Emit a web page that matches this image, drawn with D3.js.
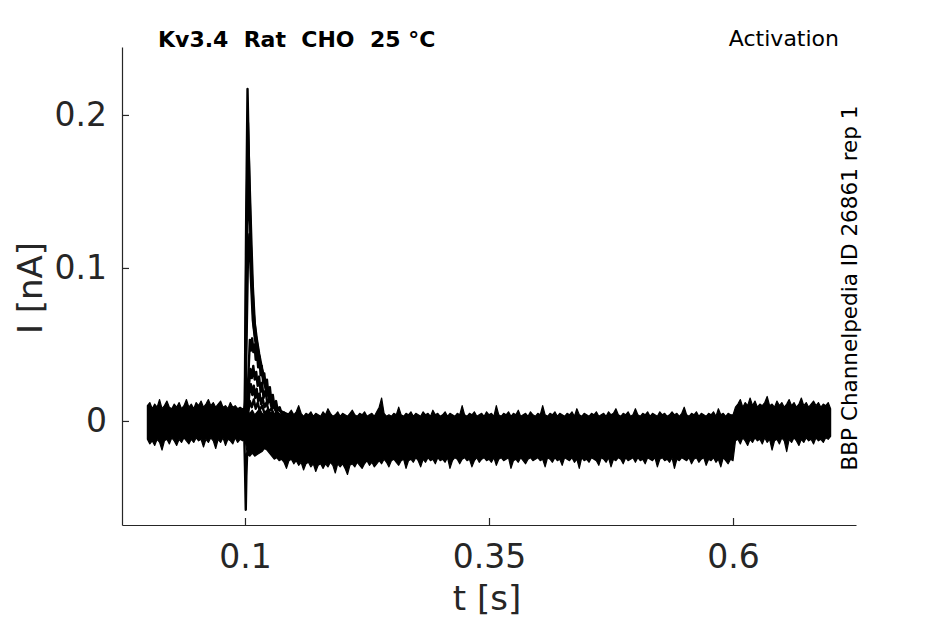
<!DOCTYPE html>
<html>
<head>
<meta charset="utf-8">
<script src="https://cdn.jsdelivr.net/npm/d3@7"></script>
<style>
  html, body { margin: 0; padding: 0; background: #fff; }
  #viz { width: 945px; height: 624px; }
  text { font-family: "DejaVu Sans", sans-serif; }
</style>
</head>
<body>
<div id="viz"></div>
<script>
// sample step of the noise envelope, seconds (0 .. 0.7)
const envStep = 0.0025;

// upper edge of the overlaid noisy traces [nA]
const bandTop = [
  // 0 .. 0.1
  0.010,0.012,0.008,0.011,0.009,0.014,0.008,0.010,0.013,0.009,
  0.008,0.011,0.009,0.012,0.008,0.010,0.014,0.009,0.011,0.008,
  0.012,0.010,0.013,0.009,0.011,0.014,0.010,0.012,0.009,0.011,
  0.013,0.009,0.010,0.008,0.012,0.009,0.010,0.008,0.009,0.008,
  0.008,
  // 0.1025 .. 0.6
  0.006,0.005,0.007,0.004,0.006,0.008,0.005,0.004,0.007,0.005,0.006,0.004,0.007,0.005,0.004,0.006,0.003,0.005,0.007,0.004,
  0.006,0.010,0.005,0.003,0.005,0.004,0.006,0.003,0.005,0.004,0.003,0.006,0.004,0.008,0.005,0.003,0.004,0.006,0.003,0.005,
  0.004,0.003,0.005,0.007,0.004,0.003,0.005,0.004,0.006,0.003,0.004,0.005,0.003,0.006,0.009,0.015,0.005,0.003,0.004,0.003,
  0.005,0.004,0.009,0.004,0.003,0.005,0.004,0.006,0.003,0.005,0.004,0.003,0.006,0.004,0.005,0.003,0.007,0.004,0.005,0.003,
  0.004,0.006,0.003,0.005,0.004,0.003,0.005,0.004,0.010,0.004,0.003,0.005,0.004,0.006,0.003,0.004,0.005,0.003,0.006,0.004,
  0.005,0.003,0.010,0.004,0.003,0.005,0.004,0.006,0.003,0.005,0.004,0.007,0.003,0.004,0.005,0.003,0.006,0.004,0.003,0.005,
  0.004,0.010,0.004,0.003,0.005,0.004,0.006,0.003,0.005,0.004,0.003,0.005,0.004,0.006,0.003,0.008,0.004,0.003,0.005,0.004,
  0.003,0.005,0.004,0.006,0.003,0.004,0.005,0.003,0.006,0.004,0.005,0.008,0.004,0.003,0.005,0.004,0.006,0.003,0.004,0.008,
  0.004,0.003,0.005,0.004,0.006,0.003,0.005,0.004,0.003,0.006,0.004,0.005,0.003,0.004,0.006,0.004,0.005,0.003,0.005,0.009,
  0.004,0.003,0.005,0.004,0.006,0.003,0.005,0.004,0.003,0.005,0.004,0.006,0.003,0.008,0.004,0.005,0.003,0.005,0.004,0.004,
  // 0.6025 .. 0.7
  0.009,0.011,0.014,0.009,0.012,0.010,0.015,0.010,0.013,0.009,
  0.011,0.010,0.012,0.016,0.010,0.011,0.009,0.013,0.010,0.012,
  0.009,0.011,0.014,0.010,0.012,0.009,0.011,0.015,0.010,0.012,
  0.009,0.011,0.013,0.010,0.012,0.009,0.011,0.010,0.012,0.008
];

// lower edge of the overlaid noisy traces [nA]
const bandBottom = [
  // 0 .. 0.1
  -0.012,-0.015,-0.013,-0.016,-0.012,-0.014,-0.019,-0.013,-0.012,-0.015,
  -0.011,-0.013,-0.016,-0.012,-0.014,-0.011,-0.013,-0.015,-0.012,-0.014,
  -0.011,-0.013,-0.012,-0.017,-0.012,-0.014,-0.011,-0.013,-0.018,-0.012,
  -0.014,-0.011,-0.016,-0.012,-0.013,-0.015,-0.011,-0.014,-0.012,-0.013,
  -0.012,
  // 0.1025 .. 0.6
  -0.022,-0.023,-0.021,-0.023,-0.022,-0.021,-0.020,-0.018,-0.019,-0.021,-0.023,-0.025,-0.024,-0.026,-0.025,-0.027,-0.031,-0.026,-0.025,-0.028,
  -0.026,-0.029,-0.027,-0.032,-0.028,-0.027,-0.030,-0.028,-0.033,-0.029,-0.028,-0.031,-0.028,-0.030,-0.027,-0.029,-0.034,-0.028,-0.030,-0.028,
  -0.031,-0.035,-0.029,-0.028,-0.030,-0.027,-0.029,-0.031,-0.028,-0.026,-0.029,-0.027,-0.030,-0.028,-0.026,-0.028,-0.025,-0.027,-0.030,-0.026,
  -0.025,-0.027,-0.029,-0.026,-0.025,-0.031,-0.026,-0.025,-0.027,-0.024,-0.026,-0.030,-0.025,-0.027,-0.024,-0.026,-0.025,-0.028,-0.024,-0.026,
  -0.025,-0.027,-0.024,-0.031,-0.026,-0.024,-0.025,-0.028,-0.025,-0.024,-0.026,-0.025,-0.030,-0.026,-0.024,-0.027,-0.025,-0.024,-0.026,-0.025,
  -0.027,-0.024,-0.029,-0.025,-0.024,-0.026,-0.025,-0.024,-0.031,-0.026,-0.025,-0.027,-0.024,-0.026,-0.028,-0.025,-0.024,-0.026,-0.025,-0.024,
  -0.026,-0.025,-0.030,-0.024,-0.025,-0.027,-0.024,-0.026,-0.025,-0.029,-0.024,-0.025,-0.026,-0.024,-0.027,-0.025,-0.031,-0.024,-0.026,-0.025,
  -0.027,-0.024,-0.025,-0.026,-0.029,-0.024,-0.025,-0.027,-0.024,-0.030,-0.025,-0.026,-0.024,-0.025,-0.028,-0.024,-0.026,-0.025,-0.024,-0.027,
  -0.024,-0.026,-0.025,-0.028,-0.024,-0.025,-0.026,-0.024,-0.030,-0.025,-0.024,-0.026,-0.025,-0.027,-0.024,-0.031,-0.025,-0.026,-0.024,-0.025,
  -0.026,-0.024,-0.028,-0.025,-0.024,-0.027,-0.025,-0.024,-0.029,-0.025,-0.026,-0.024,-0.027,-0.025,-0.030,-0.024,-0.026,-0.028,-0.025,-0.026,
  // 0.6025 .. 0.7
  -0.013,-0.012,-0.015,-0.011,-0.013,-0.016,-0.012,-0.014,-0.011,-0.013,
  -0.012,-0.015,-0.011,-0.014,-0.012,-0.019,-0.013,-0.012,-0.015,-0.011,
  -0.013,-0.020,-0.012,-0.014,-0.011,-0.013,-0.016,-0.012,-0.014,-0.011,
  -0.013,-0.012,-0.015,-0.011,-0.013,-0.012,-0.014,-0.011,-0.012,-0.010
];

// transient traces around the step at 0.1 s (time [s], current [nA])
const aT = [0.0990,0.0998,0.1012,0.1026,0.1040,0.1058,0.1075,0.1090,0.1110,0.1130,0.1155,0.1185,0.1225,0.1280,0.1350,0.1450];
const aI = [0.005,0.010,0.130,0.217,0.170,0.118,0.080,0.062,0.052,0.045,0.037,0.029,0.020,0.012,0.007,0.004];
const bT = [0.0992,0.1000,0.1015,0.1030,0.1045,0.1065,0.1080,0.1100,0.1120,0.1145,0.1175,0.1210,0.1260,0.1320,0.1400];
const bI = [0.004,0.012,0.120,0.195,0.160,0.118,0.088,0.064,0.054,0.044,0.034,0.025,0.016,0.009,0.004];
const cT = [0.0994,0.1003,0.1020,0.1036,0.1052,0.1070,0.1090,0.1110,0.1130,0.1160,0.1200,0.1250,0.1320];
const cI = [0.003,0.015,0.110,0.160,0.130,0.096,0.070,0.056,0.048,0.036,0.024,0.014,0.006];
const dT = [0.0996,0.1006,0.1030,0.1045,0.1060,0.1080,0.1100,0.1120,0.1150,0.1190,0.1240,0.1300,0.1400];
const dI = [0.002,0.015,0.105,0.122,0.094,0.066,0.055,0.047,0.039,0.029,0.019,0.011,0.004];
const eT = [0.1015,0.1035,0.1050,0.1062,0.1074,0.1086,0.1098,0.1110,0.1122,0.1135,0.1148,0.1160,0.1172,0.1185,0.1198,0.1212,0.1225,0.1240,0.1255,0.1270,0.1285,0.1300,0.1318,0.1335,0.1355,0.1380];
const eI = [0.004,0.030,0.053,0.046,0.054,0.045,0.050,0.040,0.046,0.035,0.042,0.030,0.036,0.026,0.031,0.021,0.027,0.017,0.022,0.013,0.017,0.010,0.013,0.007,0.009,0.004];
const fT = [0.1020,0.1040,0.1055,0.1070,0.1085,0.1100,0.1115,0.1130,0.1145,0.1160,0.1175,0.1190,0.1210,0.1230,0.1250,0.1275,0.1300,0.1330];
const fI = [0.002,0.022,0.034,0.028,0.036,0.027,0.032,0.023,0.029,0.019,0.025,0.015,0.020,0.011,0.015,0.008,0.010,0.004];
const gT = [0.1025,0.1045,0.1060,0.1075,0.1090,0.1105,0.1120,0.1135,0.1150,0.1165,0.1180,0.1200,0.1220,0.1245,0.1270,0.1300];
const gI = [0.003,0.018,0.024,0.017,0.023,0.015,0.021,0.013,0.018,0.011,0.015,0.009,0.012,0.006,0.008,0.004];
const hT = [0.1030,0.1050,0.1070,0.1090,0.1110,0.1130,0.1150,0.1175,0.1200,0.1230,0.1260];
const hI = [0.004,0.013,0.009,0.014,0.008,0.012,0.007,0.010,0.005,0.007,0.004];
const dipT = [0.0990,0.1000,0.1008,0.1014,0.1022,0.1035,0.1050];
const dipI = [-0.002,-0.030,-0.058,-0.036,-0.021,-0.019,-0.017];

const xTicks = [0.1, 0.35, 0.6];
const yTicks = [0, 0.1, 0.2];

const W = 945, H = 624;
const svg = d3.select('#viz').append('svg')
  .attr('width', W).attr('height', H)
  .attr('viewBox', `0 0 ${W} ${H}`);

const x = d3.scaleLinear().domain([-0.026, 0.726]).range([122, 856]);
const y = d3.scaleLinear().domain([-0.068, 0.2444]).range([525, 47]);

const band = bandTop.map((v, i) => ({t: i * envStep, hi: v, lo: bandBottom[i]}));

svg.append('path').datum(band)
  .attr('d', d3.area().x(d => x(d.t)).y0(d => y(d.lo)).y1(d => y(d.hi)))
  .attr('fill', '#000').attr('stroke', '#000').attr('stroke-width', 1.2)
  .attr('stroke-linejoin', 'round');

const line = d3.line().x(d => x(d[0])).y(d => y(d[1]));
const traces = [[aT, aI], [bT, bI], [cT, cI], [dT, dI], [eT, eI], [fT, fI], [gT, gI], [hT, hI], [dipT, dipI]];
traces.forEach(([ts, is]) => {
  svg.append('path').datum(ts.map((t, i) => [t, is[i]]))
    .attr('d', line)
    .attr('fill', 'none').attr('stroke', '#000').attr('stroke-width', 2.4)
    .attr('stroke-linejoin', 'round');
});

// axes
const axisColor = '#262626';
const gx = svg.append('g').attr('transform', 'translate(0,525)')
  .call(d3.axisBottom(x).tickValues(xTicks).tickFormat(d3.format('')).tickSizeInner(-7).tickSizeOuter(0).tickPadding(20));
const gy = svg.append('g').attr('transform', 'translate(122,0)')
  .call(d3.axisLeft(y).tickValues(yTicks).tickFormat(d3.format('')).tickSizeInner(-7).tickSizeOuter(0).tickPadding(15));
[gx, gy].forEach(g => {
  g.select('.domain').attr('stroke', axisColor).attr('stroke-width', 1.2);
  g.selectAll('.tick line').attr('stroke', axisColor).attr('stroke-width', 1.2);
  g.selectAll('.tick text').attr('fill', axisColor)
    .style('font-family', '"DejaVu Sans", sans-serif').style('font-size', '33px');
});
gx.selectAll('.tick text').attr('dy', '0.71em');

svg.append('text').attr('x', 487).attr('y', 610)
  .attr('text-anchor', 'middle').attr('fill', axisColor)
  .style('font-size', '34px').text('t [s]');

svg.append('text').attr('transform', 'translate(42,288) rotate(-90)')
  .attr('text-anchor', 'middle').attr('fill', axisColor)
  .style('font-size', '34px').text('I [nA]');

svg.append('text').attr('x', 158).attr('y', 47)
  .style('font-size', '22px').style('font-weight', 'bold')
  .attr('xml:space', 'preserve').style('white-space', 'pre')
  .text('Kv3.4  Rat  CHO  25 °C');

svg.append('text').attr('x', 839).attr('y', 46)
  .attr('text-anchor', 'end')
  .style('font-size', '22px').text('Activation');

svg.append('text').attr('transform', 'translate(857,288) rotate(-90)')
  .attr('text-anchor', 'middle')
  .style('font-size', '21.5px').text('BBP Channelpedia ID 26861 rep 1');
</script>
</body>
</html>
